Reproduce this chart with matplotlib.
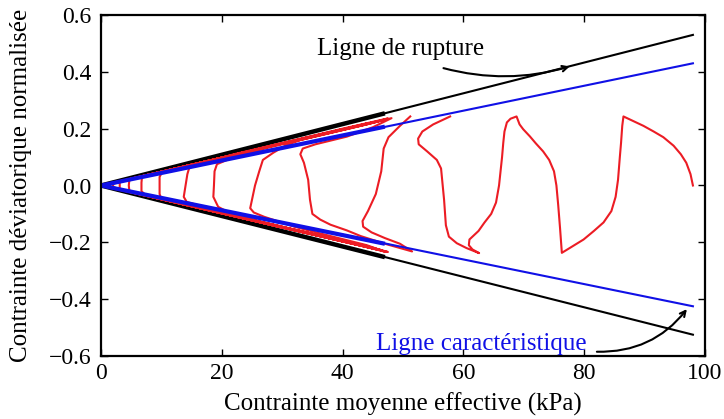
import numpy as np
import matplotlib
matplotlib.use("Agg")
import matplotlib.pyplot as plt

plt.rcParams["font.family"] = ["Liberation Serif", "DejaVu Serif"]

# envelope lines (p in kPa, normalised q)
line_p = [0, 98]
rupture_up = [0, 0.53]
rupture_low = [0, -0.525]
char_up = [0, 0.43]
char_low = [0, -0.425]
band_p = [0, 47]
rupture_band_up = [0, 0.254]
rupture_band_low = [0, -0.252]
char_band_up = [0, 0.207]
char_band_low = [0, -0.205]

# cyclic stress path (p, q), None = break
red_path = [
    (98.0, 0.0), (97.6, 0.04), (96.9, 0.08), (96.0, 0.11), (94.8, 0.14), (93.1, 0.17),
    (91.5, 0.19), (89.8, 0.21), (88.0, 0.228), (86.5, 0.243),
    (86.3, 0.21), (86.1, 0.15), (85.9, 0.10), (85.6, 0.02), (85.2, -0.04), (84.5, -0.09),
    (83.2, -0.13), (81.6, -0.16), (79.9, -0.19), (78.0, -0.215), (76.3, -0.237),
    (76.0, -0.15), (75.7, -0.07), (75.4, 0.0), (75.0, 0.05), (74.2, 0.09), (73.2, 0.12),
    (72.0, 0.148), (71.0, 0.173), (69.9, 0.198), (69.3, 0.215), (68.8, 0.243),
    (67.8, 0.235), (67.2, 0.222), (66.8, 0.19), (66.6, 0.15), (66.4, 0.10), (65.9, 0.0),
    (65.4, -0.06), (64.6, -0.10), (63.5, -0.13), (62.5, -0.16), (61.0, -0.19), (60.9, -0.21),
    (61.5, -0.225), (62.6, -0.238),
    (60.5, -0.22), (58.9, -0.203), (57.6, -0.18), (57.1, -0.14), (56.8, -0.05), (56.3, 0.06),
    (55.6, 0.09), (54.0, 0.12), (52.6, 0.145), (52.5, 0.165), (53.2, 0.19), (55.0, 0.215), (57.8, 0.243),
    None,
    (51.2, 0.243), (49.5, 0.21), (47.6, 0.17), (46.8, 0.13), (46.4, 0.05), (45.5, -0.03),
    (44.2, -0.09), (43.3, -0.125), (43.4, -0.145), (44.8, -0.165), (47.0, -0.185),
    (49.5, -0.205), (51.5, -0.232),
    (47.0, -0.205), (43.0, -0.178), (40.7, -0.158), (38.0, -0.138), (36.3, -0.12), (35.0, -0.10),
    (34.6, -0.05), (34.3, 0.02), (33.6, 0.08), (33.0, 0.11), (33.4, 0.13), (35.5, 0.145),
    (40.7, 0.172), (45.0, 0.205), (48.1, 0.237),
    (44.0, 0.215), (38.0, 0.185), (33.0, 0.16), (30.5, 0.14), (28.5, 0.115), (26.8, 0.09),
    (26.2, 0.05), (25.5, 0.0), (25.0, -0.05), (24.7, -0.08), (25.3, -0.095), (27.0, -0.11),
    (32.0, -0.145), (38.0, -0.178), (44.0, -0.21), (47.0, -0.233),
    (40.0, -0.195), (32.0, -0.155), (26.0, -0.125), (21.6, -0.10), (19.4, -0.075), (18.6, -0.04),
    (18.7, 0.0), (18.8, 0.05), (19.2, 0.075), (22.0, 0.10), (28.0, 0.135), (36.0, 0.175),
    (44.0, 0.215), (47.5, 0.236),
    (40.0, 0.20), (30.0, 0.15), (22.0, 0.11), (17.0, 0.08), (14.6, 0.062), (14.3, 0.04),
    (14.0, 0.0), (13.7, -0.04), (14.2, -0.058), (17.0, -0.075), (24.0, -0.115), (34.0, -0.165),
    (44.0, -0.213), (47.5, -0.234),
    (30.0, -0.148), (15.0, -0.073), (11.0, -0.053), (10.0, -0.048), (9.7, -0.03), (9.7, 0.03),
    (10.1, 0.047), (14.0, 0.068), (25.0, 0.123), (38.0, 0.188), (47.0, 0.232),
    (30.0, 0.148), (15.0, 0.073), (7.5, 0.036), (6.8, 0.032), (6.7, 0.01), (6.7, -0.02),
    (7.5, -0.036), (20.0, -0.097), (35.0, -0.17), (46.5, -0.228),
    (30.0, -0.148), (12.0, -0.058), (5.0, -0.024), (4.7, -0.02), (4.6, 0.0), (4.7, 0.02),
    (5.0, 0.024), (20.0, 0.098), (35.0, 0.172), (46.0, 0.226),
    (30.0, 0.148), (10.0, 0.049), (3.4, 0.016), (3.1, 0.012), (3.1, -0.012), (3.4, -0.016),
    (20.0, -0.098), (35.0, -0.172), (45.5, -0.224),
    (30.0, -0.148), (10.0, -0.049), (2.2, -0.011), (2.0, -0.008), (2.0, 0.008), (2.2, 0.011),
    (15.0, 0.073), (30.0, 0.148), (44.0, 0.218),
    (20.0, 0.098), (5.0, 0.024), (1.2, 0.005), (1.0, 0.0),
]

x_ticks = [0, 20, 40, 60, 80, 100]
y_ticks = [-0.6, -0.4, -0.2, 0.0, 0.2, 0.4, 0.6]

red_p = [np.nan if pt is None else pt[0] for pt in red_path]
red_q = [np.nan if pt is None else pt[1] for pt in red_path]

fig = plt.figure(figsize=(7.24, 4.19), dpi=100)
ax = fig.add_axes([101 / 724, 1 - 356 / 419, 604 / 724, 341 / 419])

black = "#000000"
blue = "#1010e6"
red = "#ec1c24"

ax.plot(line_p, rupture_up, color=black, lw=1.5)
ax.plot(line_p, rupture_low, color=black, lw=1.5)
ax.plot(band_p, rupture_band_up, color=black, lw=3.2, solid_capstyle="butt")
ax.plot(band_p, rupture_band_low, color=black, lw=3.2, solid_capstyle="butt")

ax.plot(red_p, red_q, color=red, lw=1.5, solid_joinstyle="round")

ax.plot(line_p, char_up, color=blue, lw=1.5)
ax.plot(line_p, char_low, color=blue, lw=1.5)
ax.plot(band_p, char_band_up, color=blue, lw=3.0, solid_capstyle="butt")
ax.plot(band_p, char_band_low, color=blue, lw=3.0, solid_capstyle="butt")

ax.text(49.6, 0.46, "Ligne de rupture", ha="center", va="baseline", fontsize=18)
ax.annotate("", xy=(77.6, 0.419), xytext=(56.7, 0.413),
            arrowprops=dict(arrowstyle="->", color=black, lw=1.5,
                            connectionstyle="arc3,rad=0.14", shrinkA=0, shrinkB=0))
ax.text(62.9, -0.578, "Ligne caractéristique", ha="center", va="baseline",
        fontsize=18, color=blue)
ax.annotate("", xy=(97.0, -0.435), xytext=(82.1, -0.585),
            arrowprops=dict(arrowstyle="->", color=black, lw=1.5,
                            connectionstyle="arc3,rad=0.25", shrinkA=0, shrinkB=0))

ax.set_xlim(0, 100)
ax.set_ylim(-0.6, 0.6)
ax.set_xticks(x_ticks)
ax.set_yticks(y_ticks)
ax.set_yticklabels([f"{v:.1f}".replace("-", "\u2212") for v in y_ticks])
ax.tick_params(direction="in", top=True, right=True, length=5, width=1,
               labelsize=17)
ax.tick_params(axis="y", pad=7)
ax.tick_params(axis="x", pad=5)
for s in ax.spines.values():
    s.set_linewidth(1.6)

ax.set_xlabel("Contrainte moyenne effective (kPa)", fontsize=18, labelpad=6)
ax.set_ylabel("Contrainte déviatorique normalisée", fontsize=18, labelpad=12)

fig.savefig("out.png", dpi=100)
